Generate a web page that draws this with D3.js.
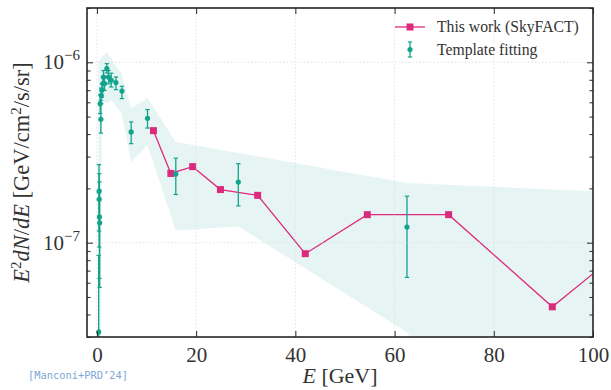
<!DOCTYPE html>
<html>
<head>
<meta charset="utf-8">
<script src="https://cdn.jsdelivr.net/npm/d3@7"></script>
<style>
  html, body { margin: 0; padding: 0; background: #fff; }
  svg { display: block; }
</style>
</head>
<body>
<svg id="chart" width="611" height="390"></svg>
<script>
// ---------- data ----------
const xTicks = [0, 20, 40, 60, 80, 100];
const yMajorTicks = [1e-7, 1e-6];
const yMajorExp = ["−7", "−6"];

// SkyFACT (this work)
const sfE = [11.4, 14.9, 19.3, 24.9, 32.4, 42.0, 54.5, 70.9, 91.8, 119];
const sfV = [4.18e-7, 2.42e-7, 2.64e-7, 1.97e-7, 1.83e-7, 8.69e-8, 1.43e-7, 1.43e-7, 4.41e-8, 1.79e-7];

// Template fitting points with error bars
const tfE  = [0.35, 0.42, 0.45, 0.5, 0.55, 0.66, 0.8, 0.87, 1.0, 1.2, 1.33, 1.53, 2.0, 2.34, 2.88, 3.83, 5.04, 6.9, 10.2, 15.9, 28.5, 62.5];
const tfV  = [3.2e-8, 1.93e-7, 1.74e-7, 1.39e-7, 1.29e-7, 5.9e-7, 4.83e-7, 6.56e-7, 7.0e-7, 7.62e-7, 8.29e-7, 7.62e-7, 9.23e-7, 8.29e-7, 7.95e-7, 7.72e-7, 6.93e-7, 4.11e-7, 4.89e-7, 2.40e-7, 2.17e-7, 1.22e-7];
const tfLo = [1e-9, 1.16e-7, 9.46e-8, 6.34e-8, 5.65e-8, 5.2e-7, 4.05e-7, 5.9e-7, 6.4e-7, 7.0e-7, 7.6e-7, 7.0e-7, 8.72e-7, 7.6e-7, 7.3e-7, 7.05e-7, 6.29e-7, 3.54e-7, 4.32e-7, 1.85e-7, 1.60e-7, 6.42e-8];
const tfHi = [8.5e-8, 2.71e-7, 2.41e-7, 2.17e-7, 1.95e-7, 6.6e-7, 6.16e-7, 7.2e-7, 7.6e-7, 8.3e-7, 9.0e-7, 8.3e-7, 9.83e-7, 9.0e-7, 8.7e-7, 8.29e-7, 7.36e-7, 4.67e-7, 5.47e-7, 2.94e-7, 2.74e-7, 1.81e-7];

// Template fitting systematic band
const bandE     = [0.3, 0.8, 1.0, 2.0, 3.0, 5.0, 6.9, 10.2, 15.9, 28.5, 62.5, 100];
const bandUpper = [1.0e-6, 1.05e-6, 1.07e-6, 1.14e-6, 1.04e-6, 8.58e-7, 5.54e-7, 6.34e-7, 3.61e-7, 3.14e-7, 2.14e-7, 1.93e-7];
const bandLower = [1e-9, 2e-8, 6.16e-7, 5.9e-7, 6.16e-7, 5.19e-7, 2.80e-7, 3.47e-7, 1.17e-7, 1.23e-7, 3.19e-8, 1e-9];

const legendLabels = ["This work (SkyFACT)", "Template fitting"];

// ---------- styles ----------
const PINK = "#dc2a7d";
const TEAL = "#12a38c";
const BAND = "#1aa89a";
const AXIS = "#262626";
const SERIF = "'Liberation Serif', 'DejaVu Serif', serif";

// ---------- layout ----------
const L = 87, R = 593, T = 8, B = 337;
const svg = d3.select("#chart");
const x = d3.scaleLinear().domain([-2, 100]).range([L, R]);
const y = d3.scaleLog().domain([3e-8, 2e-6]).range([B, T]);

svg.append("defs").append("clipPath").attr("id", "clip")
  .append("rect").attr("x", L).attr("y", T).attr("width", R - L).attr("height", B - T);

const plot = svg.append("g").attr("clip-path", "url(#clip)");

// band
const bandData = bandE.map((e, i) => ({e, lo: bandLower[i], hi: bandUpper[i]}));
plot.append("path")
  .datum(bandData)
  .attr("d", d3.area().x(d => x(d.e)).y0(d => y(d.lo)).y1(d => y(d.hi)))
  .attr("fill", BAND).attr("fill-opacity", 0.11).attr("stroke", "none");

// grid
const grid = svg.append("g");
xTicks.forEach(t => grid.append("line")
  .attr("x1", x(t)).attr("x2", x(t)).attr("y1", T).attr("y2", B)
  .attr("stroke", "#d9d9d9").attr("stroke-width", 0.7).attr("stroke-dasharray", "1.5,2"));
yMajorTicks.forEach(t => grid.append("line")
  .attr("x1", L).attr("x2", R).attr("y1", y(t)).attr("y2", y(t))
  .attr("stroke", "#d9d9d9").attr("stroke-width", 0.7).attr("stroke-dasharray", "1.5,2"));

// SkyFACT line + squares
const sfData = sfE.map((e, i) => ({e, v: sfV[i]}));
plot.append("path").datum(sfData)
  .attr("d", d3.line().x(d => x(d.e)).y(d => y(d.v)))
  .attr("fill", "none").attr("stroke", PINK).attr("stroke-width", 1.3);
const sq = 7;
plot.selectAll("rect.sf").data(sfData).join("rect").attr("class", "sf")
  .attr("x", d => x(d.e) - sq / 2).attr("y", d => y(d.v) - sq / 2)
  .attr("width", sq).attr("height", sq).attr("fill", PINK);

// Template fitting error bars
const tfData = tfE.map((e, i) => ({e, v: tfV[i], lo: tfLo[i], hi: tfHi[i]}));
const eb = plot.append("g");
tfData.forEach(d => {
  const cx = x(d.e);
  eb.append("line").attr("x1", cx).attr("x2", cx).attr("y1", y(d.lo)).attr("y2", y(d.hi))
    .attr("stroke", TEAL).attr("stroke-width", 1.3);
  [d.lo, d.hi].forEach(v => eb.append("line")
    .attr("x1", cx - 2.2).attr("x2", cx + 2.2).attr("y1", y(v)).attr("y2", y(v))
    .attr("stroke", TEAL).attr("stroke-width", 1.2));
  eb.append("circle").attr("cx", cx).attr("cy", y(d.v)).attr("r", 2.6).attr("fill", TEAL);
});

// ---------- axes ----------
const ax = svg.append("g");
const xBottom = d3.axisBottom(x).tickValues(xTicks).tickSize(-6).tickPadding(10).tickFormat(d3.format("d"));
const gxb = ax.append("g").attr("transform", `translate(0,${B})`).call(xBottom);
ax.append("g").attr("transform", `translate(0,${T})`)
  .call(d3.axisTop(x).tickValues(xTicks).tickSize(-6).tickFormat(""));
const yMinor = [];
for (let dec = -8; dec <= -6; dec++) for (let m = 2; m <= 9; m++) {
  const v = m * Math.pow(10, dec);
  if (v >= 3e-8 && v <= 2e-6) yMinor.push(v);
}
ax.append("g").attr("transform", `translate(${L},0)`)
  .call(d3.axisLeft(y).tickValues(yMajorTicks).tickSize(-6).tickFormat(""));
ax.append("g").attr("transform", `translate(${L},0)`)
  .call(d3.axisLeft(y).tickValues(yMinor).tickSize(-3.5).tickFormat(""));
ax.append("g").attr("transform", `translate(${R},0)`)
  .call(d3.axisRight(y).tickValues(yMajorTicks).tickSize(-6).tickFormat(""));
ax.append("g").attr("transform", `translate(${R},0)`)
  .call(d3.axisRight(y).tickValues(yMinor).tickSize(-3.5).tickFormat(""));

ax.selectAll(".domain").remove();
ax.selectAll(".tick line").attr("stroke", AXIS).attr("stroke-width", 1);
gxb.selectAll(".tick text").attr("font-family", SERIF).attr("font-size", 21).attr("fill", "#333");

yMajorTicks.forEach((t, i) => {
  const tx = svg.append("text").attr("x", L - 7).attr("y", y(t) + 7)
    .attr("text-anchor", "end").attr("font-family", SERIF).attr("font-size", 21).attr("fill", "#333");
  tx.append("tspan").text("10");
  tx.append("tspan").attr("font-size", 15).attr("dy", -9).text(yMajorExp[i]);
});

// frame
svg.append("rect").attr("x", L).attr("y", T).attr("width", R - L).attr("height", B - T)
  .attr("fill", "none").attr("stroke", AXIS).attr("stroke-width", 1.6);

// axis labels
const xl = svg.append("text").attr("x", (L + R) / 2).attr("y", 383).attr("text-anchor", "middle")
  .attr("font-family", SERIF).attr("font-size", 22).attr("fill", "#333");
xl.append("tspan").attr("font-style", "italic").text("E");
xl.append("tspan").text(" [GeV]");

const yl = svg.append("text").attr("transform", `translate(29,${(T + B) / 2}) rotate(-90)`)
  .attr("text-anchor", "middle").attr("font-family", SERIF).attr("font-size", 22.5).attr("fill", "#333");
yl.append("tspan").attr("font-style", "italic").text("E");
yl.append("tspan").attr("font-size", 15).attr("dy", -8).text("2");
yl.append("tspan").attr("font-style", "italic").attr("dy", 8).text("dN");
yl.append("tspan").text("/");
yl.append("tspan").attr("font-style", "italic").text("dE");
yl.append("tspan").text(" [GeV/cm");
yl.append("tspan").attr("font-size", 15).attr("dy", -8).text("2");
yl.append("tspan").attr("dy", 8).text("/s/sr]");

// legend
const lg = svg.append("g");
lg.append("line").attr("x1", 395).attr("x2", 425).attr("y1", 27).attr("y2", 27)
  .attr("stroke", PINK).attr("stroke-width", 1.3);
lg.append("rect").attr("x", 410 - sq / 2).attr("y", 27 - sq / 2).attr("width", sq).attr("height", sq).attr("fill", PINK);
lg.append("line").attr("x1", 410).attr("x2", 410).attr("y1", 42).attr("y2", 57).attr("stroke", TEAL).attr("stroke-width", 1.3);
[42, 57].forEach(v => lg.append("line").attr("x1", 407.8).attr("x2", 412.2).attr("y1", v).attr("y2", v)
  .attr("stroke", TEAL).attr("stroke-width", 1.2));
lg.append("circle").attr("cx", 410).attr("cy", 49.5).attr("r", 2.6).attr("fill", TEAL);
legendLabels.forEach((s, i) => lg.append("text").attr("x", 437).attr("y", 32 + i * 23)
  .attr("font-family", SERIF).attr("font-size", 15.7).attr("fill", "#333").text(s));

// watermark
svg.append("text").attr("x", 28).attr("y", 379).attr("font-family", "'DejaVu Sans Mono', 'Liberation Mono', monospace")
  .attr("font-size", 10.4).attr("fill", "#7ea6d6").text("[Manconi+PRD’24]");
</script>
</body>
</html>
